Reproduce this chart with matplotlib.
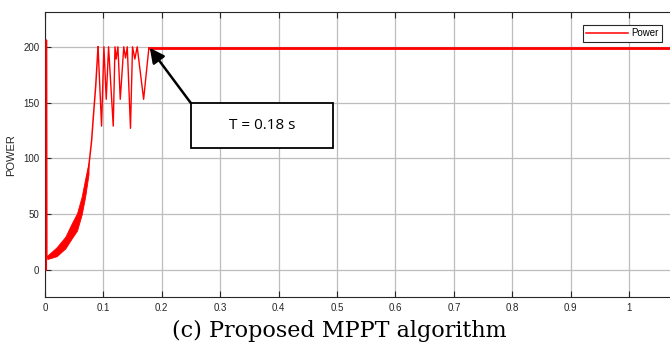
import matplotlib
matplotlib.use('Agg')
import matplotlib.pyplot as plt
from matplotlib.patches import Rectangle

# start-up transient and rise (centre line)
t_rise = [0.0024, 0.0026, 0.0032, 0.005, 0.02, 0.035, 0.046, 0.055, 0.063, 0.069, 0.0747, 0.080, 0.0826, 0.087, 0.091]
p_rise = [0, 206, 13, 11.5, 16.5, 24.5, 35, 43, 58, 73.5, 91, 116, 135, 165, 200]

# ripple band during the rise
t_band = [0.004, 0.02, 0.035, 0.046, 0.055, 0.063, 0.069, 0.0747]
p_upper = [13, 20.5, 30, 42, 51, 66, 82, 96]
p_lower = [10, 12.5, 19.5, 28.5, 35.5, 50, 66, 86]

# MPPT hunting before it settles
t_osc = [0.091, 0.097, 0.101, 0.105, 0.109, 0.117, 0.120, 0.122, 0.125, 0.129,
         0.135, 0.138, 0.141, 0.1465, 0.150, 0.154, 0.158, 0.169, 0.178]
p_osc = [200, 129, 200, 153, 200, 129, 200, 189, 200, 153,
         200, 190, 200, 127, 200, 189, 200, 153, 199]

# steady state
t_ss = [0.178, 1.07]
p_ss = [199, 199]

xticks = [0, 0.1, 0.2, 0.3, 0.4, 0.5, 0.6, 0.7, 0.8, 0.9, 1]
xlabels = ['0', '0.1', '0.2', '0.3', '0.4', '0.5', '0.6', '0.7', '0.8', '0.9', '1']
yticks = [0, 50, 100, 150, 200]

plt.rcParams['font.family'] = ['Liberation Sans', 'DejaVu Sans']

fig = plt.figure(figsize=(6.7, 3.47), dpi=100)
ax = fig.add_axes([0.067, 0.144, 0.933, 0.821])

red = '#ff0000'
ax.fill_between(t_band, p_lower, p_upper, color=red, lw=0.6, zorder=3)
ax.plot(t_rise, p_rise, color=red, lw=1.1, zorder=3, label='Power')
ax.plot(t_osc, p_osc, color=red, lw=1.0, zorder=3)
ax.plot(t_ss, p_ss, color=red, lw=2.0, zorder=3)

ax.set_xlim(0, 1.07)
ax.set_ylim(-24, 231)
ax.set_xticks(xticks)
ax.set_xticklabels(xlabels)
ax.set_yticks(yticks)
ax.grid(True, color='#bdbdbd', lw=0.9)
ax.set_axisbelow(True)
ax.tick_params(direction='in', top=True, right=False, length=4, width=0.8,
               labelsize=7, colors='#262626', pad=4)
for s in ['left', 'bottom', 'top']:
    ax.spines[s].set_color('#262626')
    ax.spines[s].set_linewidth(0.8)
ax.spines['right'].set_visible(False)
ax.set_ylabel('POWER', fontsize=8, color='#262626', labelpad=5)

leg = ax.legend(loc='upper right', bbox_to_anchor=(0.99, 0.962), fontsize=7,
                fancybox=False, framealpha=1, edgecolor='#262626',
                handlelength=4.3, borderpad=0.35, handletextpad=0.3,
                borderaxespad=0.2)
leg.get_frame().set_linewidth(0.8)

# annotation box with arrow
box_x0, box_x1 = 0.2496, 0.494
box_y0, box_y1 = 109, 149.8
ax.add_patch(Rectangle((box_x0, box_y0), box_x1 - box_x0, box_y1 - box_y0,
                       fc='white', ec='black', lw=1.3, zorder=5))
ax.text((box_x0 + box_x1) / 2, (box_y0 + box_y1) / 2, 'T = 0.18 s',
        ha='center', va='center', fontsize=11, family=['Open Sans', 'DejaVu Sans'],
        zorder=6)
ax.annotate('', xy=(0.1795, 199), xytext=(box_x0, box_y1),
            arrowprops=dict(arrowstyle='-|>', color='black', lw=1.8,
                            mutation_scale=22, shrinkA=0, shrinkB=0),
            zorder=6)

fig.text(0.506, 0.047, '(c) Proposed MPPT algorithm', ha='center', va='center',
         fontsize=16, family=['DejaVu Serif'])

fig.savefig('out.png', dpi=100)
